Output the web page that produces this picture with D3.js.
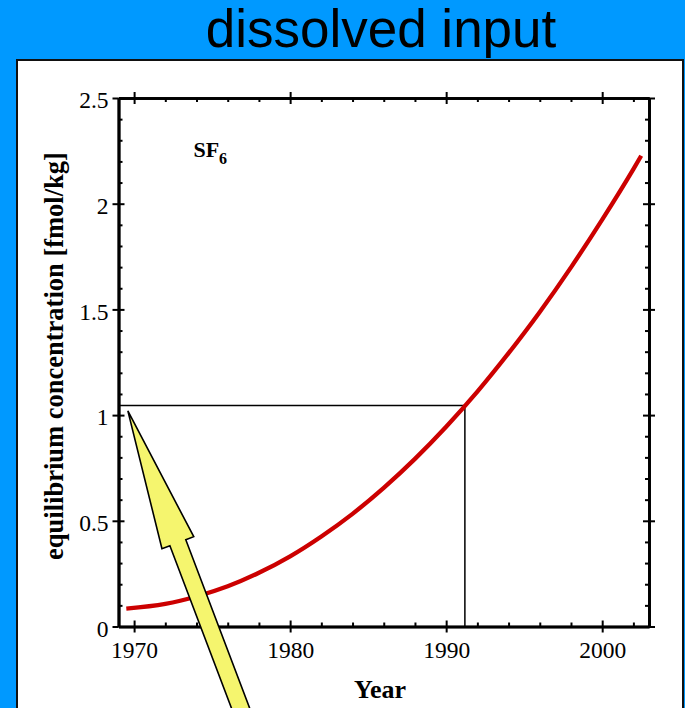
<!DOCTYPE html>
<html>
<head>
<meta charset="utf-8">
<script src="https://cdn.jsdelivr.net/npm/d3@7"></script>
<style>
  body { margin: 0; background: #0099ff; }
  svg { display: block; }
</style>
</head>
<body>
<div id="my_dataviz"></div>
<script>
// values
const years  = [1969.5, 1972, 1974, 1976, 1978, 1980, 1982, 1984, 1986, 1988, 1990, 1992, 1994, 1996, 1998, 2000, 2002, 2002.5];
const conc   = [0.085, 0.107, 0.142, 0.19, 0.254, 0.332, 0.426, 0.533, 0.656, 0.793, 0.945, 1.111, 1.293, 1.488, 1.699, 1.925, 2.164, 2.227];
const xTicks = [1970, 1980, 1990, 2000];
const yTicks = [0, 0.5, 1, 1.5, 2, 2.5];
const xMinor = d3.range(1970, 2003, 2).filter(d => d % 10 !== 0);
const yMinor = d3.range(0, 25).map(d => d / 10).filter(d => d % 0.5 !== 0);
// reading marker: year where the curve crosses the level
const markYear = 1991.2, markLevel = 1.045;
// arrow pointing at the left end of the marker
const arrowTip = [1969.6, 1.02], arrowTail = [1977.1, -0.44];

const W = 685, H = 708;
const svg = d3.select("#my_dataviz")
  .append("svg")
    .attr("width", W)
    .attr("height", H);

// title
svg.append("text")
  .attr("x", 381).attr("y", 47)
  .attr("text-anchor", "middle")
  .style("font-family", "'Liberation Sans', Arial, sans-serif")
  .style("font-size", "53px")
  .attr("fill", "#000")
  .text("dissolved input");

// white panel
svg.append("rect")
  .attr("x", 17).attr("y", 60)
  .attr("width", 666).attr("height", 660)
  .attr("fill", "#fff")
  .attr("stroke", "#111")
  .attr("stroke-width", 2);

const x = d3.scaleLinear().domain([1969, 2003]).range([118.5, 649]);
const y = d3.scaleLinear().domain([0, 2.5]).range([626.5, 98]);

const serif = "'Liberation Serif', 'Times New Roman', serif";

// axes: outward major, inward major, inward minor
function side(make, pos, tr, labels) {
  const g = svg.append("g").attr("transform", tr);
  g.call(make(pos).tickValues(pos === x ? xTicks : yTicks).tickSize(6).tickSizeOuter(0)
    .tickPadding(pos === x ? 9 : 4).tickFormat(labels ? d3.format("") : ""));
  g.append("g").call(make(pos).tickValues(pos === x ? xTicks : yTicks).tickSize(-6).tickSizeOuter(0).tickFormat(""));
  g.append("g").call(make(pos).tickValues(pos === x ? xMinor : yMinor).tickSize(-4).tickSizeOuter(0).tickFormat(""));
  g.selectAll(".domain").attr("stroke-width", 2.6);
  g.selectAll(".tick line").attr("stroke-width", 2);
  g.selectAll("text")
    .style("font-family", serif)
    .style("font-size", "23.5px")
    .attr("fill", "#000");
  return g;
}
side(d3.axisBottom, x, `translate(0,${y(0)})`, true);
side(d3.axisTop, x, `translate(0,${y(2.5)})`, false);
const yl = side(d3.axisLeft, y, `translate(${x(1969)},0)`, true);
yl.selectAll("text").attr("dy", "0.42em");
side(d3.axisRight, y, `translate(${x(2003)},0)`, false);

// axis titles
svg.append("text")
  .attr("x", 380).attr("y", 698)
  .attr("text-anchor", "middle")
  .style("font-family", serif)
  .style("font-weight", "bold")
  .style("font-size", "26px")
  .text("Year");

svg.append("text")
  .attr("transform", "translate(63,356) rotate(-90)")
  .attr("text-anchor", "middle")
  .style("font-family", serif)
  .style("font-weight", "bold")
  .style("font-size", "26.5px")
  .text("equilibrium concentration [fmol/kg]");

// SF6 label
const lab = svg.append("text")
  .attr("x", x(1973.8)).attr("y", y(2.22))
  .style("font-family", serif)
  .style("font-weight", "bold")
  .style("font-size", "22px");
lab.append("tspan").text("SF");
lab.append("tspan").attr("dy", 7).style("font-size", "16px").text("6");

// marker lines
svg.append("path")
  .attr("d", d3.line()([[x(1969), y(markLevel)], [x(markYear), y(markLevel)], [x(markYear), y(0)]]))
  .attr("fill", "none")
  .attr("stroke", "#000")
  .attr("stroke-width", 1.5);

// curve
const data = years.map((d, i) => [d, conc[i]]);
svg.append("path")
  .datum(data)
  .attr("fill", "none")
  .attr("stroke", "#cc0000")
  .attr("stroke-width", 4.3)
  .attr("d", d3.line().x(d => x(d[0])).y(d => y(d[1])).curve(d3.curveMonotoneX));

// arrow
const tx = x(arrowTip[0]), ty = y(arrowTip[1]);
const ex = x(arrowTail[0]), ey = y(arrowTail[1]);
const len = Math.hypot(ex - tx, ey - ty);
const ux = (ex - tx) / len, uy = (ey - ty) / len;
const nx = -uy, ny = ux;
const headLen = 141, headW = 17, shaftW = 8.5;
const pt = (a, b) => [tx + ux * a + nx * b, ty + uy * a + ny * b];
svg.append("path")
  .attr("d", d3.line()([
    pt(0, 0), pt(headLen, headW), pt(headLen, shaftW), pt(len, shaftW),
    pt(len, -shaftW), pt(headLen, -shaftW), pt(headLen, -headW)
  ]) + "Z")
  .attr("fill", "#f5f56e")
  .attr("stroke", "#000")
  .attr("stroke-width", 1.6)
  .attr("stroke-linejoin", "miter");
</script>
</body>
</html>
